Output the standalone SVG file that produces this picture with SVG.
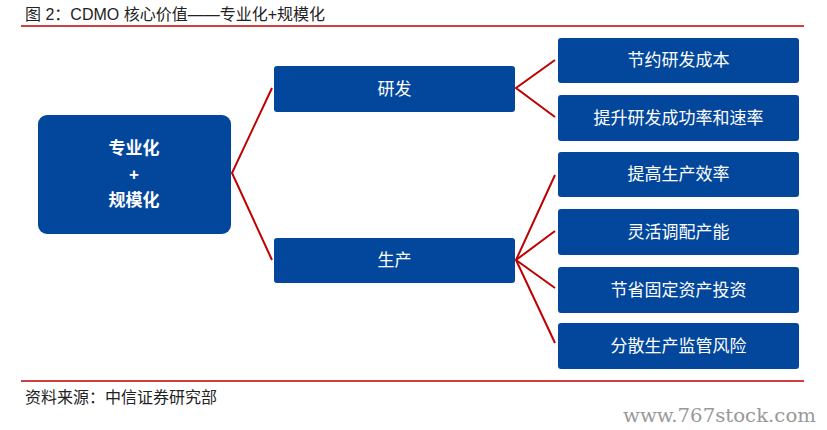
<svg xmlns="http://www.w3.org/2000/svg" width="827" height="430" viewBox="0 0 827 430">
<style>
.box{fill:#03479C;}
.bt{fill:#fff;font-family:"Liberation Sans","Noto Sans CJK SC",sans-serif;font-size:17px;text-anchor:middle;}
.mt{fill:#fff;font-family:"Liberation Sans","Noto Sans CJK SC",sans-serif;font-size:17px;font-weight:bold;text-anchor:middle;}
.con{stroke:#C00000;stroke-width:2;fill:none;}
.rule{stroke:#C00000;stroke-width:1.3;}
.cap{fill:#222;font-family:"Liberation Sans","Noto Sans CJK SC",sans-serif;font-size:16px;}
</style>
<rect width="827" height="430" fill="#fff"/>
<text class="cap" x="25" y="20">图 2：CDMO 核心价值——专业化+规模化</text>
<line class="rule" x1="21" y1="26" x2="804" y2="26"/>
<g id="connectors">
<polyline class="con" points="272,88 232,173 272,260"/>
<polyline class="con" points="555,60 516,88 555,117"/>
<polyline class="con" points="555,175 516,260 555,343"/>
<line class="con" x1="516" y1="260" x2="555" y2="231"/>
<line class="con" x1="516" y1="260" x2="555" y2="288"/>
</g>
<g id="main">
<rect class="box" x="38" y="115" width="193" height="119" rx="9"/>
<text class="mt" x="134" y="154">专业化</text>
<text class="mt" x="134" y="180">+</text>
<text class="mt" x="134" y="206">规模化</text>
</g>
<g id="rd">
<rect class="box" x="274" y="66" width="241" height="46" rx="3"/>
<text class="bt" x="394.5" y="95">研发</text>
</g>
<g id="prod">
<rect class="box" x="274" y="238" width="241" height="45" rx="3"/>
<text class="bt" x="394.5" y="266">生产</text>
</g>
<g id="r1">
<rect class="box" x="558" y="38" width="241" height="45" rx="3"/>
<text class="bt" x="678.5" y="66">节约研发成本</text>
</g>
<g id="r2">
<rect class="box" x="558" y="95" width="241" height="46" rx="3"/>
<text class="bt" x="678.5" y="124">提升研发成功率和速率</text>
</g>
<g id="p1">
<rect class="box" x="558" y="152" width="241" height="45" rx="3"/>
<text class="bt" x="678.5" y="180">提高生产效率</text>
</g>
<g id="p2">
<rect class="box" x="558" y="209" width="241" height="46" rx="3"/>
<text class="bt" x="678.5" y="238">灵活调配产能</text>
</g>
<g id="p3">
<rect class="box" x="558" y="267" width="241" height="46" rx="3"/>
<text class="bt" x="678.5" y="296">节省固定资产投资</text>
</g>
<g id="p4">
<rect class="box" x="558" y="323" width="241" height="46" rx="3"/>
<text class="bt" x="678.5" y="352">分散生产监管风险</text>
</g>
<line class="rule" x1="21" y1="381" x2="804" y2="381"/>
<text class="cap" x="25" y="403">资料来源：中信证券研究部</text>
<text x="623" y="422" fill="#999" font-family="'DejaVu Serif','Liberation Serif',serif" font-size="19" textLength="193" lengthAdjust="spacingAndGlyphs">www.767stock.com</text>
</svg>
